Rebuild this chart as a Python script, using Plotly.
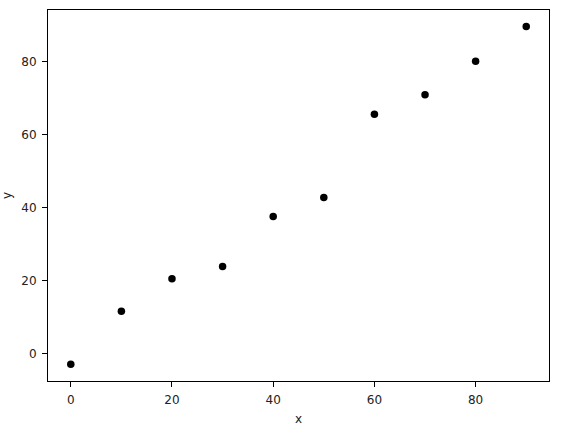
import plotly.graph_objects as go

x_vals = [0, 10, 20, 30, 40, 50, 60, 70, 80, 90]
y_vals = [-2.8, 11.7, 20.6, 23.9, 37.6, 42.8, 65.6, 70.9, 80.1, 89.6]
x_ticks = [0, 20, 40, 60, 80]
y_ticks = [0, 20, 40, 60, 80]

fig = go.Figure(
    go.Scatter(
        x=x_vals, y=y_vals, mode="markers",
        marker=dict(color="black", size=7.5, line=dict(width=0)),
        showlegend=False,
    )
)

axis_common = dict(
    showline=True, linecolor="black", linewidth=1, mirror=True,
    ticks="outside", ticklen=5, tickwidth=1, tickcolor="black",
    showgrid=False, zeroline=False, ticklabelstandoff=3,
    tickfont=dict(family="DejaVu Sans", size=12, color="#222"),
)

fig.update_layout(
    width=565, height=428,
    margin=dict(l=48, r=16, t=10, b=47, autoexpand=False),
    paper_bgcolor="white", plot_bgcolor="white",
    xaxis=dict(range=[-4.5, 94.5], tickvals=x_ticks,
               title=dict(text="x", font=dict(family="DejaVu Sans", size=12, color="#222"), standoff=8),
               **axis_common),
    yaxis=dict(range=[-7.4, 94.1], tickvals=y_ticks,
               title=dict(text="y", font=dict(family="DejaVu Sans", size=12, color="#222"), standoff=15),
               **axis_common),
)

# remove the page's default body margin so the figure fills the window exactly
fig.write_html("out.html", config={"displayModeBar": False},
               post_script="document.body.style.margin='0';")
